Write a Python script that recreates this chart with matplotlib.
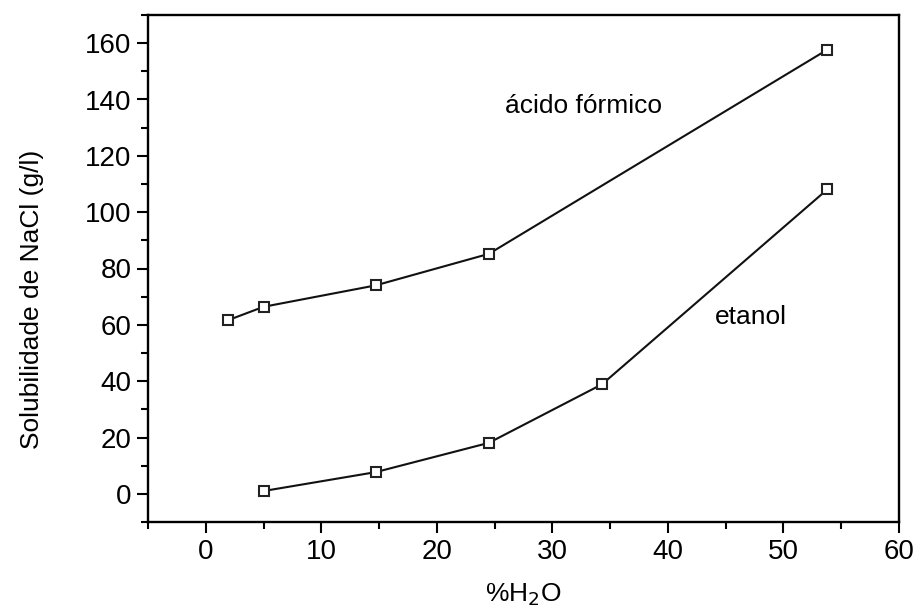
import matplotlib
matplotlib.use("Agg")
import matplotlib.pyplot as plt
from matplotlib.ticker import MultipleLocator

plt.rcParams['font.family'] = ['Liberation Sans', 'DejaVu Sans']

acido_x = [1.9, 5.0, 14.7, 24.5, 53.8]
acido_y = [61.6, 66.4, 74.0, 85.2, 157.7]
etanol_x = [5.0, 14.7, 24.5, 34.3, 53.8]
etanol_y = [1.0, 7.7, 18.1, 38.9, 108.1]

fig = plt.figure(figsize=(9.19, 6.15), dpi=100)
ax = fig.add_axes([148/919, 1-522/615, (899-148)/919, (522-15)/615])

style = dict(color='#111111', lw=1.5, marker='s', markersize=7,
             markerfacecolor='white', markeredgecolor='#222222', markeredgewidth=1.5)
ax.plot(acido_x, acido_y, **style)
ax.plot(etanol_x, etanol_y, **style)

ax.set_xlim(-5, 60)
ax.set_ylim(-10, 170)
ax.xaxis.set_major_locator(MultipleLocator(10))
ax.xaxis.set_minor_locator(MultipleLocator(5))
ax.yaxis.set_major_locator(MultipleLocator(20))
ax.yaxis.set_minor_locator(MultipleLocator(10))
ax.set_yticks(range(0, 161, 20))

for s in ax.spines.values():
    s.set_linewidth(1.7)
ax.tick_params(which='both', direction='out', top=False, right=False, width=1.5)
ax.tick_params(which='major', length=8, labelsize=20, pad=4)
ax.tick_params(which='minor', length=5)

ax.text(25.9, 137.7, 'ácido fórmico', fontsize=19, va='center', ha='left')
ax.text(44.1, 62.8, 'etanol', fontsize=19, va='center', ha='left')

ax.set_xlabel('%H$_2$O', fontsize=19, labelpad=12)
ax.set_ylabel('Solubilidade de NaCl (g/l)', fontsize=19)
ax.yaxis.set_label_coords(-0.138, 0.44)

fig.savefig('out.png', dpi=100)
